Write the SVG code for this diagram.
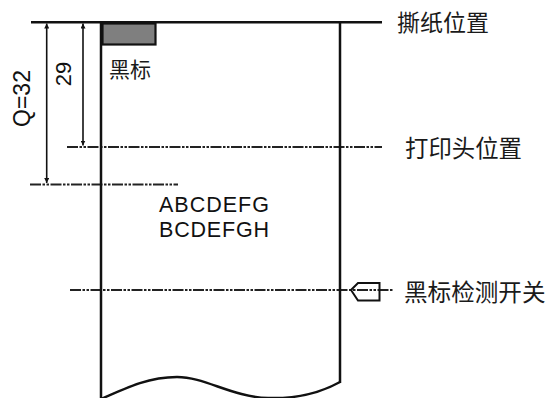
<svg xmlns="http://www.w3.org/2000/svg" width="548" height="398" viewBox="0 0 548 398">
<style>
.solid{stroke:#111;stroke-width:2.5;fill:none}
.cl{stroke:#222;stroke-width:2.2;fill:none;stroke-dasharray:11 1.5 2.5 1.5 2.5 1.5}
.dim{stroke:#111;stroke-width:1.6;fill:none}
.lat{font-family:"Liberation Sans",Arial,sans-serif;fill:#111}
.cjk{font-family:"Noto Sans CJK SC","Noto Sans",sans-serif;fill:#1a1a1a}
</style>
<defs>
<marker id="ah" viewBox="0 0 10 10" refX="10" refY="5" markerWidth="5" markerHeight="5" orient="auto-start-reverse" markerUnits="userSpaceOnUse">
<path d="M0,0 L10,5 L0,10 z" fill="#111"/>
</marker>
</defs>
<rect width="548" height="398" fill="#fff"/>
<g id="connectors">
<line class="cl" x1="67" y1="147" x2="382" y2="147"/>
<line class="cl" x1="30" y1="184.5" x2="178" y2="184.5"/>
<line class="cl" x1="70" y1="290" x2="393" y2="290"/>
<line class="dim" x1="46.7" y1="23.5" x2="46.7" y2="183" marker-start="url(#ah)" marker-end="url(#ah)"/>
<line class="dim" x1="83" y1="23.5" x2="83" y2="145.5" marker-start="url(#ah)" marker-end="url(#ah)"/>
</g>
<g id="paper">
<line class="solid" x1="31" y1="22.3" x2="382" y2="22.3"/>
<line class="solid" x1="101" y1="22" x2="101" y2="398"/>
<line class="solid" x1="340" y1="22" x2="340" y2="383"/>
<path class="solid" d="M101,399 C130,386 150,377 177,377 C205,377 232,397 268,398 C300,399 322,392 340,382"/>
</g>
<g id="blackmark">
<rect x="102.5" y="23.5" width="53" height="21" fill="#7f7f7f" stroke="#111" stroke-width="2.2"/>
<text class="cjk" x="109" y="77" font-size="21">黑标</text>
</g>
<g id="sensor">
<path d="M351,290 L358,283 L379.5,283 L379.5,300.5 L358,300.5 Z" fill="none" stroke="#111" stroke-width="2"/>
</g>
<g id="labels">
<text class="cjk" x="397" y="31" font-size="23">撕纸位置</text>
<text class="cjk" x="405" y="157" font-size="23.4">打印头位置</text>
<text class="cjk" x="404" y="301" font-size="23.6">黑标检测开关</text>
<text class="lat" x="159" y="212" font-size="21.5" textLength="110">ABCDEFG</text>
<text class="lat" x="159" y="237" font-size="21.5" textLength="110">BCDEFGH</text>
<text class="lat" font-size="23" text-anchor="middle" transform="translate(30,98.5) rotate(-90)">Q=32</text>
<text class="lat" font-size="22" text-anchor="middle" transform="translate(71,74) rotate(-90)">29</text>
</g>
</svg>
